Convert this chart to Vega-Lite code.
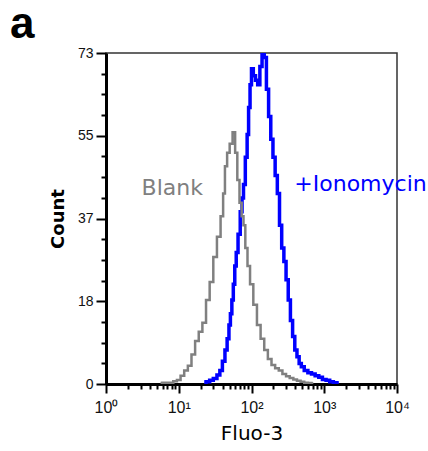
{
  "$schema": "https://vega.github.io/schema/vega-lite/v6.json",
  "width": 291,
  "height": 331,
  "autosize": {"type": "none"},
  "padding": {"left": 106, "top": 53, "right": 31, "bottom": 67},
  "background": "white",
  "title": {"text": "a", "fontSize": 44, "font": "Liberation Sans", "fontWeight": "bold", "anchor": "start", "frame": "group", "dx": -96, "offset": -36, "baseline": "alphabetic", "color": "#000000"},
  "config": {
    "view": {"stroke": "#333333", "strokeWidth": 1.5},
    "axis": {"grid": false}
  },
  "datasets": {
    "hist": [
      {"series": "Blank", "fl": 5.62, "count": 0.2},
      {"series": "Blank", "fl": 6.31, "count": 0.3},
      {"series": "Blank", "fl": 7.94, "count": 0.3},
      {"series": "Blank", "fl": 8.91, "count": 0.6},
      {"series": "Blank", "fl": 10.0, "count": 0.9},
      {"series": "Blank", "fl": 11.22, "count": 1.8},
      {"series": "Blank", "fl": 12.59, "count": 3.0},
      {"series": "Blank", "fl": 14.13, "count": 4.0},
      {"series": "Blank", "fl": 15.85, "count": 6.5},
      {"series": "Blank", "fl": 17.78, "count": 9.5},
      {"series": "Blank", "fl": 19.95, "count": 11.5},
      {"series": "Blank", "fl": 22.39, "count": 13.5},
      {"series": "Blank", "fl": 25.12, "count": 18.5},
      {"series": "Blank", "fl": 28.18, "count": 22.5},
      {"series": "Blank", "fl": 31.62, "count": 28},
      {"series": "Blank", "fl": 35.48, "count": 32.5},
      {"series": "Blank", "fl": 39.81, "count": 37},
      {"series": "Blank", "fl": 41.69, "count": 42},
      {"series": "Blank", "fl": 44.67, "count": 48},
      {"series": "Blank", "fl": 47.86, "count": 51},
      {"series": "Blank", "fl": 52.48, "count": 53},
      {"series": "Blank", "fl": 57.54, "count": 55.5},
      {"series": "Blank", "fl": 61.66, "count": 51},
      {"series": "Blank", "fl": 66.07, "count": 45},
      {"series": "Blank", "fl": 70.79, "count": 40},
      {"series": "Blank", "fl": 75.86, "count": 37},
      {"series": "Blank", "fl": 79.43, "count": 35},
      {"series": "Blank", "fl": 85.11, "count": 30},
      {"series": "Blank", "fl": 91.2, "count": 26},
      {"series": "Blank", "fl": 100.0, "count": 22},
      {"series": "Blank", "fl": 112.2, "count": 17.5},
      {"series": "Blank", "fl": 125.9, "count": 13},
      {"series": "Blank", "fl": 141.3, "count": 10},
      {"series": "Blank", "fl": 158.5, "count": 7.5},
      {"series": "Blank", "fl": 177.8, "count": 5.5},
      {"series": "Blank", "fl": 199.5, "count": 4.2},
      {"series": "Blank", "fl": 223.9, "count": 3.5},
      {"series": "Blank", "fl": 251.2, "count": 3.0},
      {"series": "Blank", "fl": 281.8, "count": 2.2},
      {"series": "Blank", "fl": 316.2, "count": 1.7},
      {"series": "Blank", "fl": 354.8, "count": 1.3},
      {"series": "Blank", "fl": 398.1, "count": 1.0},
      {"series": "Blank", "fl": 446.7, "count": 0.7},
      {"series": "Blank", "fl": 501.2, "count": 0.5},
      {"series": "Blank", "fl": 562.3, "count": 0.3},
      {"series": "Blank", "fl": 631.0, "count": 0.2},
      {"series": "Blank", "fl": 707.9, "count": 0.1},
      {"series": "+Ionomycin", "fl": 22.39, "count": 0.2},
      {"series": "+Ionomycin", "fl": 25.12, "count": 0.5},
      {"series": "+Ionomycin", "fl": 28.18, "count": 0.8},
      {"series": "+Ionomycin", "fl": 31.62, "count": 1.2},
      {"series": "+Ionomycin", "fl": 35.48, "count": 2.0},
      {"series": "+Ionomycin", "fl": 38.02, "count": 3.0},
      {"series": "+Ionomycin", "fl": 41.69, "count": 5},
      {"series": "+Ionomycin", "fl": 44.67, "count": 7.5},
      {"series": "+Ionomycin", "fl": 47.86, "count": 10},
      {"series": "+Ionomycin", "fl": 50.12, "count": 13},
      {"series": "+Ionomycin", "fl": 52.48, "count": 15.5},
      {"series": "+Ionomycin", "fl": 54.95, "count": 18.5},
      {"series": "+Ionomycin", "fl": 57.54, "count": 22},
      {"series": "+Ionomycin", "fl": 60.26, "count": 26},
      {"series": "+Ionomycin", "fl": 63.1, "count": 29},
      {"series": "+Ionomycin", "fl": 67.61, "count": 33},
      {"series": "+Ionomycin", "fl": 72.44, "count": 38},
      {"series": "+Ionomycin", "fl": 75.86, "count": 41},
      {"series": "+Ionomycin", "fl": 79.43, "count": 44},
      {"series": "+Ionomycin", "fl": 85.11, "count": 50},
      {"series": "+Ionomycin", "fl": 89.13, "count": 55},
      {"series": "+Ionomycin", "fl": 93.33, "count": 61},
      {"series": "+Ionomycin", "fl": 97.72, "count": 66},
      {"series": "+Ionomycin", "fl": 102.3, "count": 69.5},
      {"series": "+Ionomycin", "fl": 109.6, "count": 68},
      {"series": "+Ionomycin", "fl": 117.5, "count": 67},
      {"series": "+Ionomycin", "fl": 125.9, "count": 66},
      {"series": "+Ionomycin", "fl": 134.9, "count": 70},
      {"series": "+Ionomycin", "fl": 144.5, "count": 74},
      {"series": "+Ionomycin", "fl": 154.9, "count": 72},
      {"series": "+Ionomycin", "fl": 166.0, "count": 65},
      {"series": "+Ionomycin", "fl": 177.8, "count": 59},
      {"series": "+Ionomycin", "fl": 190.5, "count": 54},
      {"series": "+Ionomycin", "fl": 204.2, "count": 50},
      {"series": "+Ionomycin", "fl": 218.8, "count": 46},
      {"series": "+Ionomycin", "fl": 234.4, "count": 42},
      {"series": "+Ionomycin", "fl": 251.2, "count": 35},
      {"series": "+Ionomycin", "fl": 269.2, "count": 30},
      {"series": "+Ionomycin", "fl": 288.4, "count": 27},
      {"series": "+Ionomycin", "fl": 309.0, "count": 23},
      {"series": "+Ionomycin", "fl": 331.1, "count": 18.5},
      {"series": "+Ionomycin", "fl": 354.8, "count": 14},
      {"series": "+Ionomycin", "fl": 380.2, "count": 10.5},
      {"series": "+Ionomycin", "fl": 407.4, "count": 7.5},
      {"series": "+Ionomycin", "fl": 436.5, "count": 6},
      {"series": "+Ionomycin", "fl": 467.7, "count": 4.5},
      {"series": "+Ionomycin", "fl": 501.2, "count": 3.8},
      {"series": "+Ionomycin", "fl": 562.3, "count": 3.0},
      {"series": "+Ionomycin", "fl": 631.0, "count": 2.5},
      {"series": "+Ionomycin", "fl": 707.9, "count": 2.2},
      {"series": "+Ionomycin", "fl": 794.3, "count": 1.8},
      {"series": "+Ionomycin", "fl": 891.3, "count": 1.5},
      {"series": "+Ionomycin", "fl": 1000, "count": 1.0},
      {"series": "+Ionomycin", "fl": 1122, "count": 0.8},
      {"series": "+Ionomycin", "fl": 1259, "count": 0.5},
      {"series": "+Ionomycin", "fl": 1413, "count": 0.3},
      {"series": "+Ionomycin", "fl": 1585, "count": 0.1}
    ],
    "labels": [
      {"series": "Blank", "fl": 3.08, "count": 41.7},
      {"series": "+Ionomycin", "fl": 388, "count": 42.5}
    ]
  },
  "encoding": {
    "x": {
      "field": "fl", "type": "quantitative",
      "scale": {"type": "log", "domain": [1, 10000], "nice": false},
      "axis": {
        "title": "Fluo-3",
        "titleFont": "DejaVu Sans", "titleFontSize": 20, "titleFontWeight": "normal", "titleColor": "#000000", "titlePadding": 8,
        "values": [1,2,3,4,5,6,7,8,9,10,20,30,40,50,60,70,80,90,100,200,300,400,500,600,700,800,900,1000,2000,3000,4000,5000,6000,7000,8000,9000,10000],
        "labelExpr": "datum.value == 1 ? '10⁰' : datum.value == 10 ? '10¹' : datum.value == 100 ? '10²' : datum.value == 1000 ? '10³' : datum.value == 10000 ? '10⁴' : ''",
        "labelFont": "Liberation Sans", "labelFontSize": 16, "labelColor": "#111111", "labelPadding": 6, "labelFlush": false, "labelOverlap": false,
        "domainColor": "#000000", "domainWidth": 3,
        "tickColor": "#000000", "tickWidth": 2,
        "tickSize": {"condition": {"test": "indexof([1,10,100,1000,10000], datum.value) >= 0", "value": 9}, "value": 5}
      }
    },
    "y": {
      "field": "count", "type": "quantitative",
      "scale": {"domain": [0, 73], "nice": false, "zero": true},
      "axis": {
        "title": "Count",
        "titleFont": "DejaVu Sans", "titleFontSize": 18, "titleFontWeight": "bold", "titleColor": "#000000", "titlePadding": 10,
        "values": [0,4.5625,9.125,13.6875,18.25,22.8125,27.375,31.9375,36.5,41.0625,45.625,50.1875,54.75,59.3125,63.875,68.4375,73],
        "labelExpr": "datum.value % 18.25 == 0 ? format(round(datum.value), 'd') : ''",
        "labelFont": "Liberation Sans", "labelFontSize": 14, "labelColor": "#111111", "labelPadding": 3, "labelFlush": false, "labelOverlap": false,
        "domainColor": "#000000", "domainWidth": 3,
        "tickColor": "#000000", "tickWidth": 2,
        "tickSize": {"condition": {"test": "datum.value % 18.25 == 0", "value": 10}, "value": 5}
      }
    }
  },
  "layer": [
    {
      "data": {"name": "hist"},
      "transform": [{"filter": "datum.series == '+Ionomycin'"}],
      "mark": {"type": "line", "interpolate": "step", "color": "#0000ff", "strokeWidth": 3.5, "clip": true}
    },
    {
      "data": {"name": "hist"},
      "transform": [{"filter": "datum.series == 'Blank'"}],
      "mark": {"type": "line", "interpolate": "step", "color": "#808080", "strokeWidth": 2.5, "clip": true}
    },
    {
      "data": {"name": "labels"},
      "mark": {"type": "text", "align": "left", "baseline": "alphabetic", "font": "DejaVu Sans", "fontSize": 22},
      "encoding": {
        "text": {"field": "series"},
        "color": {"field": "series", "type": "nominal", "scale": {"domain": ["Blank", "+Ionomycin"], "range": ["#808080", "#0000ff"]}, "legend": null}
      }
    }
  ]
}
